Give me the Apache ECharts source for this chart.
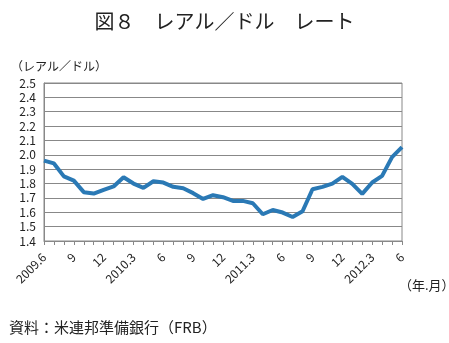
<!DOCTYPE html>
<html><head><meta charset="utf-8">
<script src="https://cdn.jsdelivr.net/npm/echarts@6/dist/echarts.min.js"></script>
<style>html,body{margin:0;padding:0;background:#fff}#c{width:449px;height:343px}</style>
</head><body><div id="c"></div>
<script>
const categories = ['2009.6','7','8','9','10','11','12','2010.1','2','2010.3','4','5','6','7','8','9','10','11','12','2011.1','2','2011.3','4','5','6','7','8','9','10','11','12','2012.1','2','2012.3','4','5','6'];
const rates = [1.96,1.94,1.85,1.82,1.74,1.73,1.756,1.78,1.844,1.80,1.77,1.816,1.807,1.777,1.767,1.733,1.693,1.719,1.705,1.679,1.679,1.663,1.586,1.616,1.598,1.567,1.607,1.76,1.777,1.80,1.847,1.798,1.728,1.807,1.853,1.984,2.053];
const yTicks = {min:1.4, max:2.5, interval:0.1};
const FONT = '"Noto Sans CJK JP", sans-serif';
const chart = echarts.init(document.getElementById('c'));
chart.setOption({
  animation:false,
  backgroundColor:'#fff',
  title:[
    {text:'図８　レアル／ドル　レート', left:'center', top:6, textStyle:{fontFamily:FONT, fontSize:20, fontWeight:'normal', color:'#222'}},
    {text:'（レアル／ドル）', left:6, top:55, textStyle:{fontFamily:FONT, fontSize:12, fontWeight:'normal', color:'#222'}},
    {text:'（年.月）', left:394, top:274, textStyle:{fontFamily:FONT, fontSize:13, fontWeight:'normal', color:'#222'}},
    {text:'資料：米連邦準備銀行（FRB）', left:4, top:315, textStyle:{fontFamily:FONT, fontSize:15, fontWeight:'normal', color:'#222'}}
  ],
  grid:{left:44, right:47, top:83, bottom:102, show:true, borderColor:'#888', borderWidth:1},
  xAxis:{type:'category', data:categories, boundaryGap:false,
    axisLine:{lineStyle:{color:'#888'}},
    axisTick:{show:true, interval:0, length:4, lineStyle:{color:'#888'}},
    axisLabel:{interval:2, rotate:45, margin:14, fontFamily:FONT, fontSize:12, color:'#222'}
  },
  yAxis:{type:'value', min:yTicks.min, max:yTicks.max, interval:yTicks.interval,
    axisLine:{show:true, lineStyle:{color:'#888'}},
    axisTick:{show:false},
    splitLine:{lineStyle:{color:'#888'}},
    axisLabel:{formatter:v=>v.toFixed(1), fontFamily:FONT, fontSize:12, color:'#222', margin:8}
  },
  series:[{type:'line', data:rates, symbol:'none', lineStyle:{color:'#2a79b5', width:4}}]
});
</script></body></html>
